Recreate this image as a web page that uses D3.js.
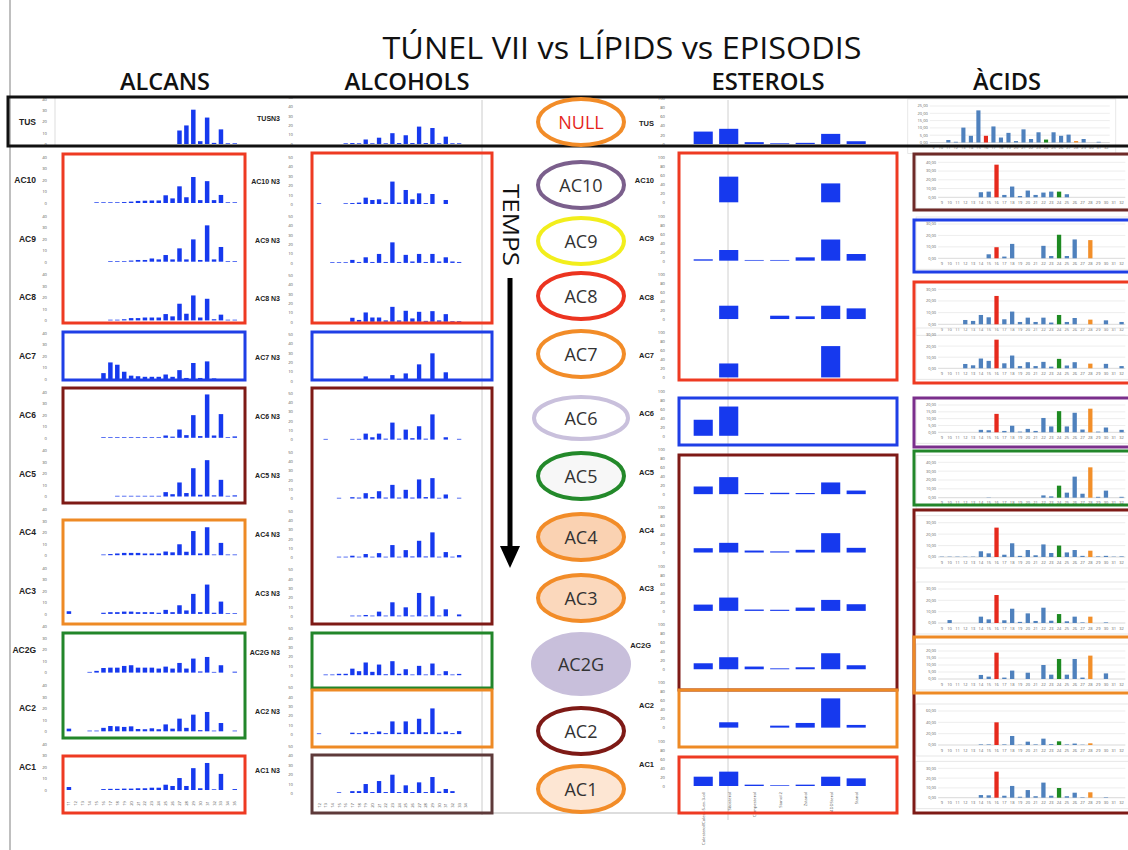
<!DOCTYPE html>
<html><head><meta charset="utf-8">
<script src="https://cdn.jsdelivr.net/npm/d3@7"></script>
<style>body{margin:0;background:#fff}svg{display:block}</style>
</head><body>
<svg id="c" width="1128" height="850"></svg>
<script>
// ---------------- DATA ----------------
const rowLabels = ["TUS","AC10","AC9","AC8","AC7","AC6","AC5","AC4","AC3","AC2G","AC2","AC1"];

const alcanCats = ["11","12","13","14","15","16","17","18","19","20","21","22","23","24","25","26","27","28","29","30","31","32","33","34","35"];
const alcanValues = [
  [0,0,0,0,0,0,0,0,0,0,0,0,0,0,0,0,12,16.5,30.5,2.5,23.5,1,13,0.3,0.3],
  [0,0,0,0,0.2,0.2,0.3,0.3,0.8,1.2,1.8,2,2.2,2.2,6.7,4,14.5,5,22.6,2.5,19,2.5,7,0.5,0.3],
  [0,0,0,0,0,0,0.2,0.2,0.5,1,1.5,1.5,2.8,2,5.8,2,11.6,2,19.4,1.5,31.6,2,12.8,0.3,0.3],
  [0,0,0,0,0,0,0.2,0.3,1,2,2,2.5,2.5,2.5,5.5,3.5,14.5,5.8,21.7,2.5,18.8,1,5,0.3,0.5],
  [0,0,0,0,0,5.2,14.5,12.5,6.4,3,2.5,2,2,2,4,2,7.8,1,14,1,15.4,0.5,0,0,0],
  [0,0,0,0,0,0.3,0.3,0.3,0.4,0.4,0.4,0.4,0.4,0.5,2,1,7.2,2.3,19.7,1.5,37.7,2,20.6,0.3,1.2],
  [0,0,0,0,0,0,0,0.2,0.2,0.2,0.2,0.3,0.5,0.5,3.8,2,12.2,3,24.6,1.5,31.6,1,14.5,0.3,1],
  [0,0,0,0,0,0.5,1,1.5,2,2,2,1.5,1.5,1.5,3.2,2.5,9.5,3,21,1.5,24.3,0.5,10.7,0.5,0.5],
  [2.3,0,0,0,0,1,1.5,1.5,2,2,1.5,1.5,1.5,1,3.5,1.5,7.5,3,17.4,1.5,25.5,1,10.7,0.2,0.5],
  [0,0,0,0.3,1.5,4,4.3,4.3,5.8,6.4,4.3,4.3,4.3,3.5,5.2,3.5,8.4,3.5,12.2,1,13.6,0.5,6.4,0,0.8],
  [2.3,0,0,0.2,0.5,3,4.6,4.3,3.8,4.3,2,1.8,2.6,1.8,6,2.3,11,3,14.5,1,16.8,0.3,7.2,0,0.5],
  [2.6,0,0,0,0,0.8,1,1,1.2,1.2,1.5,1.5,2,2,4.6,3.5,10.4,3.5,19,1.5,23.5,0.5,14,0,0.8]
];
const alcanTicks = [0,10,20,30,40];

const alcoholCats = ["12","13","14","15","16","17","18","19","20","21","22","23","24","25","26","27","28","29","30","31","32","33","34"];
const alcoholValues = [
  [0,0,0,0,0.5,1,0.5,4.8,0.5,6.7,0.5,11.5,1,9.3,1,18.5,1,17,0.5,7.8,0.5,0.5,0],
  [0.3,0,0,0,0.3,1,1.5,6.8,4.3,5,1.5,24,1.5,15,5,11.4,1,10.7,0,4.3,0,0,0],
  [0,0,0.3,0.3,0.5,3.2,1,6,1,9.6,1,22,1,8.6,1.5,9.6,1,9.6,1.5,6,1.5,1,0],
  [0,0,0,0,0,4.3,2,10,4.6,4.6,1.5,16,1.5,11.8,3.6,10.7,1,11.4,1.5,8.2,0.5,0.5,0],
  [0,0,0,0,0,0,0,4.6,0,0,0,6,0,7.8,0,17.5,0,29.3,0,9,0,0,0],
  [0,0.3,0,0,0,0.5,0.8,6.4,2.5,6.4,1,18.2,1,10.7,1.5,14.3,1,27,0,2.5,0,0.8,0],
  [0,0,0,0.2,0,1.4,1,5.7,1.5,7.8,1,14.6,1,9.3,1,20.4,1.5,21.8,0.5,4.3,0,0.8,0],
  [0,0,0,0.3,0.3,1.8,0.5,3.6,0.5,4.6,0.5,13.2,0.5,7.8,1,17.8,1,26.8,0.5,5.7,0.5,2.5,0],
  [0,0,0,0,0,0.5,0.5,1.4,0.5,5,0.5,15,0.5,9.6,0.5,25,0.5,21.4,0.5,7.5,0,2,0],
  [0,0.2,0.3,1.5,1.5,7,4.3,13.6,3.6,11.4,1,15,1.5,6.4,0.5,10,0.5,12.5,0.5,4.3,0.5,1.4,0],
  [0.5,0,0,0,0,1.5,1,2.5,1,2.8,1,13.6,1.5,13.6,2,16.4,2,27.5,1.5,2.8,1,3.2,0],
  [0,0,0,0.3,0,2,2,9.6,1,12.8,1,19.6,1,8.2,1,11.4,1,17.1,1.5,4.3,2,0,0]
];
const alcoholTicks = [0,10,20,30,40,50];

const sterolCats = ["Colesterol(Colest-5-en-3-ol)","Sitosterol","Campesterol","Stanol 2","Zstanol","14DDSterol","Stanol"];
const sterolValues = [
  [27,33,4,1.5,2.5,22,6],
  [0,57,0,0,0,42,0],
  [3,23.7,1.5,1.5,7.4,47,14.8],
  [0,29.6,0,7.4,6,29.6,23.7],
  [0,31,0,0,0,69.6,0],
  [35.6,65,0,0,0,0,0],
  [17,37.8,2.5,3,2.5,26,8],
  [9.6,21.5,4.4,2.5,6,43,10.4],
  [14,29.6,3,2.5,7.4,24.4,14.8],
  [13.3,26.7,6,2,4.4,35.6,8.9],
  [0,11.9,0,4.4,10.4,65,6],
  [20.7,31.9,3,1.5,3,20.7,17]
];
const sterolTicks = [0,20,40,60,80,100];

const acidCats = ["9","10","11","12","13","14","15","16","17","18","19","20","21","22","23","24","25","26","27","28","29","30","31","32"];
const acidValues = [
  [0,0,1.7,0.5,10.2,4.6,22,4.6,11,3.4,6.6,1,9,2.4,7,2,7,4.6,5.4,1,2.4,0,0.5,0],
  [0,0,0,0,0,5.8,6.5,37.3,2.7,12.3,1.5,7.7,2.7,5.4,6.5,6.5,3.5,0,0,0,0,0,0,0],
  [0,0,0,0,0,0,3.5,9.7,1.5,12.6,0,0,0,10.9,2,20.6,2,16.5,0,15.9,0,0,0,0],
  [0,0,0,3.7,2.9,8,6,24.3,4.3,10.9,2,5.7,2,5.7,1.5,8,2,5.4,0,4,0,3.4,0,2],
  [0,0,0,3.9,2.7,8.8,6.7,25.8,4.5,11.5,2,5.5,2,5.8,1.5,8.5,2.5,5.5,0,4.2,0,4,0,2],
  [0,0,0,0,0,1.8,1.5,13.5,1,4.8,0.5,2.5,1,10.5,4.3,15.5,4.3,14.3,2,17.3,0.5,3.5,0,1.8],
  [0,0,0,0,0,0,0.3,0,0,0,0,0,0,2.6,1.5,13.6,5.7,23.8,4.5,34.3,1,8,0,1],
  [0.3,0.3,0.3,0.3,0.3,5,3.2,25.7,2,12,1,6.1,1.5,11,3.5,10,4,6.1,1,5.5,0.5,1,0.3,0.5],
  [0,2.6,0,0,0,5.6,3.2,24.7,2.4,12.6,1,8.5,1.8,13.5,2,7.9,1.5,5.6,0.5,5.6,0,0.5,0,0],
  [0,0,0,0,0,2.9,1.7,18.8,1,6,0,4.5,0,10,3.1,14.3,3.1,14.3,1,16.7,0,4,0,0],
  [0,0,0,0,0,1,1,40,1,15.9,0.5,5.9,1,11.2,1.5,6.5,1,2.5,0.5,3,0,0,0,0],
  [0,0,0,0,0,2.7,2.4,26.6,2,12,1,7.8,1.5,15.4,2,9.9,1.5,5.1,0.5,5.5,0,0.5,0,0]
];
const acidAxisMax = [25,40,30,30,30,20,40,30,30,20,60,30];
const acidAxisStep = [5,10,10,10,10,5,10,10,10,5,20,10];

const titleText = "TÚNEL VII vs LÍPIDS vs EPISODIS";
const columnTitles = ["ALCANS","ALCOHOLS","ESTEROLS","ÀCIDS"];
const timeLabel = "TEMPS";
const episodeLabels = ["NULL","AC10","AC9","AC8","AC7","AC6","AC5","AC4","AC3","AC2G","AC2","AC1"];

// ---------------- LAYOUT / STYLE ----------------
const svg = d3.select("#c");
const BLUE = "#1639ee";
const ACID_BLUE = "#4f81bd";
const acidColour = {"16":"#e62a1d","24":"#1e8a22","28":"#f28f2a"};
const FONT = "'Open Sans','DejaVu Sans',sans-serif";

// slide border line
svg.append("line").attr("x1",10).attr("x2",10).attr("y1",0).attr("y2",850).attr("stroke","#aaa").attr("stroke-width",1.5);
svg.append("line").attr("x1",490).attr("x2",680).attr("y1",813).attr("y2",813).attr("stroke","#bbb").attr("stroke-width",1);

// titles
svg.append("text").attr("x",622).attr("y",59).attr("text-anchor","middle")
  .attr("font-family",FONT).attr("font-size",31).attr("font-weight",500).attr("fill","#111")
  .attr("textLength",479).attr("lengthAdjust","spacingAndGlyphs").text(titleText);
const colTitlePos = [[165,90],[407,125],[768,113],[1007,68]];
columnTitles.forEach((t,i)=>{
  svg.append("text").attr("x",colTitlePos[i][0]).attr("y",90).attr("text-anchor","middle")
    .attr("font-family",FONT).attr("font-size",23).attr("font-weight",600).attr("fill","#111")
    .attr("textLength",colTitlePos[i][1]).attr("lengthAdjust","spacingAndGlyphs").text(t);
});

// gray chart guide lines
svg.append("line").attr("x1",482).attr("x2",482).attr("y1",100).attr("y2",815).attr("stroke","#ccc").attr("stroke-width",1);
svg.append("line").attr("x1",728).attr("x2",728).attr("y1",100).attr("y2",820).attr("stroke","#d0d0d0").attr("stroke-width",1);
svg.append("line").attr("x1",55).attr("x2",55).attr("y1",98).attr("y2",145).attr("stroke","#ddd").attr("stroke-width",1);

// generic blue bar panel
function panel(opts){
  const g = svg.append("g");
  const y = d3.scaleLinear().domain(opts.domain).range([opts.base, opts.base-opts.h]);
  g.selectAll("rect").data(opts.values).join("rect")
    .attr("x",(d,i)=>opts.x(opts.cats[i]))
    .attr("width",opts.x.bandwidth())
    .attr("y",d=>d>0? Math.min(y(d), opts.base-0.7):opts.base)
    .attr("height",d=>d>0? Math.max(opts.base-y(d),0.7):0)
    .attr("fill",BLUE);
  const ax = g.append("g").attr("transform",`translate(${opts.axisX},0)`)
    .call(d3.axisLeft(y).tickValues(opts.ticks).tickSize(0).tickPadding(0));
  ax.select(".domain").remove();
  ax.selectAll("text").attr("font-size",4.2).attr("fill","#555").attr("font-family",FONT);
  g.append("text").attr("x",opts.labelX).attr("y",y(opts.labelAt)+3).attr("text-anchor","end")
    .attr("font-family","'Liberation Sans',Arial,sans-serif").attr("font-weight","bold")
    .attr("font-size",opts.fs).attr("fill","#222").text(opts.label);
  return {g,y};
}

// ALCANS
const alcX = d3.scaleBand().domain(alcanCats).range([65.5,238.2]).paddingInner(0.35).paddingOuter(0.17);
alcanValues.forEach((vals,r)=>{
  const base = r===0?144:203+(r-1)*58.7;
  panel({values:vals,cats:alcanCats,x:alcX,domain:[0,40],base,h:r===0?45:46,ticks:alcanTicks,
    axisX:47,labelX:36,labelAt:20,fs:8.5,label:rowLabels[r]});
});
svg.append("g").selectAll("text").data(alcanCats).join("text")
  .attr("transform",d=>`translate(${alcX(d)+alcX.bandwidth()/2+1.5},801) rotate(-90)`)
  .attr("text-anchor","end").attr("font-size",4.2).attr("fill","#555").attr("font-family",FONT).text(d=>d);

// ALCOHOLS
const aloX = d3.scaleBand().domain(alcoholCats).range([315.7,469.1]).paddingInner(0.35).paddingOuter(0.17);
alcoholValues.forEach((vals,r)=>{
  const base = r===0?144:204+(r-1)*58.9;
  panel({values:vals,cats:alcoholCats,x:aloX,domain:[0,50],base,h:r===0?47:46.7,ticks:alcoholTicks,
    axisX:293,labelX:280,labelAt:r===0?28:25,fs:7,label:rowLabels[r]+(r===0?"N3":" N3")});
});
svg.append("g").selectAll("text").data(alcoholCats).join("text")
  .attr("transform",d=>`translate(${aloX(d)+aloX.bandwidth()/2+1.5},803) rotate(-90)`)
  .attr("text-anchor","end").attr("font-size",4.2).attr("fill","#555").attr("font-family",FONT).text(d=>d);

// ESTEROLS
const stX = d3.scaleBand().domain(sterolCats).range([690.6,868.8]).paddingInner(0.25).paddingOuter(0.12);
sterolValues.forEach((vals,r)=>{
  const base = r===0?144:202.3+(r-1)*58.37;
  panel({values:vals,cats:sterolCats,x:stX,domain:[0,100],base,h:r===0?46:45,ticks:sterolTicks,
    axisX:665,labelX:r===9?651:654,labelAt:r===0?45:(r===9?55:50),fs:7.5,label:rowLabels[r]});
});
svg.append("g").selectAll("text").data(sterolCats).join("text")
  .attr("transform",d=>`translate(${stX(d)+stX.bandwidth()/2+2},792) rotate(-90)`)
  .attr("text-anchor","end").attr("font-size",4.2).attr("fill","#555").attr("font-family",FONT).text(d=>d);

// ÀCIDS
const acidTop = [106,162.3,224,289.3,335,405,462.3,522.7,589,651,711,768.3];
const acidBase = [142.5,197.3,258.3,324.3,368.3,432.3,497.7,557,623,679,745,797.7];
const fmt = d=>d3.format(".2f")(d).replace(".",",");
acidValues.forEach((vals,r)=>{
  const x = r===0? d3.scaleBand().domain(acidCats).range([929.75,1109.75]).paddingInner(0.45).paddingOuter(0.2)
                 : d3.scaleBand().domain(acidCats).range([938.1,1125.3]).paddingInner(0.45).paddingOuter(0.2);
  const y = d3.scaleLinear().domain([0,acidAxisMax[r]]).range([acidBase[r],acidTop[r]]);
  const g = svg.append("g");
  const ticks = d3.range(0,acidAxisMax[r]+0.001,acidAxisStep[r]);
  const x0 = x.range()[0], x1 = x.range()[1];
  g.append("rect").attr("x",x0-22).attr("y",acidTop[r]-7).attr("width",x1-x0+28).attr("height",acidBase[r]-acidTop[r]+18)
    .attr("fill","none").attr("stroke","#e2e2e2").attr("stroke-width",0.8);
  g.selectAll("line.grid").data(ticks).join("line").attr("class","grid")
    .attr("x1",x0).attr("x2",x1).attr("y1",d=>y(d)).attr("y2",d=>y(d))
    .attr("stroke",(d)=>d===0?"#bfbfbf":"#e0e0e0").attr("stroke-width",0.6);
  g.selectAll("text.yl").data(ticks).join("text").attr("class","yl")
    .attr("x",x0-2).attr("y",d=>y(d)+1.4).attr("text-anchor","end")
    .attr("font-size",4).attr("fill","#666").attr("font-family",FONT).text(fmt);
  g.selectAll("rect.b").data(vals).join("rect").attr("class","b")
    .attr("x",(d,i)=>x(acidCats[i])).attr("width",x.bandwidth())
    .attr("y",d=>y(d)).attr("height",d=>acidBase[r]-y(d))
    .attr("fill",(d,i)=>acidColour[acidCats[i]]||ACID_BLUE);
  g.selectAll("text.xl").data(acidCats).join("text").attr("class","xl")
    .attr("x",d=>x(d)+x.bandwidth()/2).attr("y",acidBase[r]+6.5).attr("text-anchor","middle")
    .attr("font-size",4).attr("fill","#666").attr("font-family",FONT).text(d=>d);
});

// FRAMES
function frame(x,y,w,h,c){
  svg.append("rect").attr("x",x).attr("y",y).attr("width",w).attr("height",h)
    .attr("fill","none").attr("stroke",c).attr("stroke-width",3);
}
const RED="#ee3a22", BLU="#1f3fe6", DRED="#7e1a16", ORA="#ee8a25", GRN="#22862a", PUR="#7b2f8c", BRN="#5e3a3a";
svg.append("rect").attr("x",8).attr("y",97).attr("width",1135).attr("height",49).attr("fill","none").attr("stroke","#111").attr("stroke-width",3);
frame(63,154,182,169,RED); frame(63,332,182,48,BLU); frame(63,388,182,115,DRED);
frame(63,520,182,104,ORA); frame(63,633,182,105,GRN); frame(63,756,182,57,RED);
frame(312,153,180,170,RED); frame(312,332,180,48,BLU); frame(312,388,180,236,DRED);
frame(312,633,180,55,GRN); frame(312,690,180,57,ORA); frame(312,755,180,58,BRN);
frame(679,153,218,227,RED); frame(679,398,218,47,BLU); frame(679,455,218,235,DRED);
frame(679,690,218,57,ORA); frame(679,757,218,56,RED);
frame(914,154,225,56,"#6e2a28"); frame(914,220,225,52,BLU); frame(914,282,225,101,RED);
frame(914,398,225,49,PUR); frame(914,451,225,54,GRN); frame(914,510,225,303,DRED);
frame(914,637,225,56,ORA);

// EPISODE ELLIPSES
const ellCy = [122,185,241,296,354,418,476,537,598,664,731,789];
const ellStyle = [
  {s:"#f28c28",f:"#fff",t:"#e5261c"},
  {s:"#7b5f8c",f:"#fff",t:"#333"},
  {s:"#f2ee1c",f:"#fff",t:"#333"},
  {s:"#ec3420",f:"#fff",t:"#333"},
  {s:"#f28c28",f:"#fff",t:"#333"},
  {s:"#c9c0dc",f:"#fff",t:"#333"},
  {s:"#23892a",f:"#f7f7f7",t:"#333"},
  {s:"#f28c28",f:"#fad2b2",t:"#333"},
  {s:"#f28c28",f:"#fbd8bc",t:"#333"},
  {s:"#c8bfdb",f:"#c8bfdb",t:"#333"},
  {s:"#7e1a16",f:"#fff",t:"#333"},
  {s:"#f28c28",f:"#fde6d3",t:"#333"}
];
episodeLabels.forEach((lab,i)=>{
  const big = lab==="AC2G";
  svg.append("ellipse").attr("cx",581).attr("cy",ellCy[i]).attr("rx",big?48:(lab==="AC6"?47:43)).attr("ry",big?30:(lab==="AC6"?21:23))
    .attr("fill",ellStyle[i].f).attr("stroke",ellStyle[i].s).attr("stroke-width",4);
  svg.append("text").attr("x",581).attr("y",ellCy[i]+6.5).attr("text-anchor","middle")
    .attr("font-family",FONT).attr("font-size",18).attr("fill",ellStyle[i].t).text(lab);
});

// TEMPS + arrow
svg.append("text").attr("transform","translate(503,225) rotate(90)").attr("text-anchor","middle")
  .attr("font-family",FONT).attr("font-size",22).attr("fill","#111")
  .attr("textLength",82).attr("lengthAdjust","spacingAndGlyphs").text(timeLabel);
svg.append("line").attr("x1",510).attr("x2",510).attr("y1",278).attr("y2",550).attr("stroke","#000").attr("stroke-width",5);
svg.append("path").attr("d","M500,546 L520,546 L510,568 Z").attr("fill","#000");
</script>
</body></html>
